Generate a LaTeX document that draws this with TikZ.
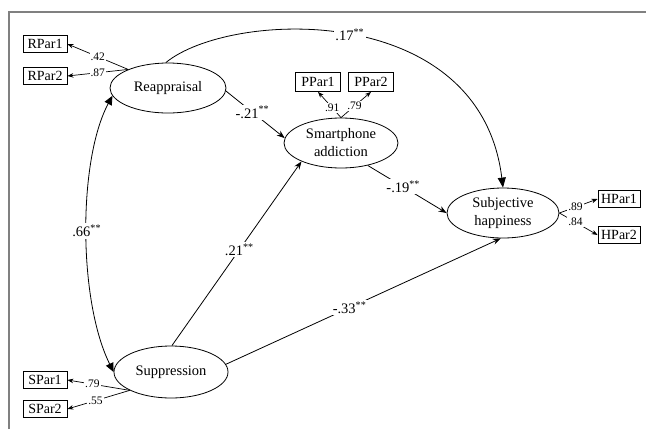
\documentclass[tikz,border=0pt]{standalone}
\usepackage{fontspec}
\setmainfont{Liberation Serif}
\usetikzlibrary{arrows.meta,shapes.geometric}
\begin{document}
\begin{tikzpicture}[x=1pt,y=-1pt,
  lat/.style={ellipse,draw,line width=0.8pt,inner sep=0pt,align=center,
    font=\fontsize{14.5}{18}\selectfont},
  obs/.style={rectangle,draw,line width=0.8pt,minimum width=44,minimum height=17,
    inner sep=0pt,font=\fontsize{14}{14}\selectfont},
  ind/.style={line width=0.7pt,-{Stealth[length=6pt,width=4.5pt]}},
  path/.style={line width=0.8pt,-{Stealth[length=8pt,width=6pt]}},
  load/.style={fill=white,inner sep=1pt,font=\fontsize{11.5}{12}\selectfont},
  coef/.style={fill=white,inner sep=1.5pt,font=\fontsize{14.5}{15}\selectfont}]
\useasboundingbox (0,0) rectangle (646,429);
% frame
\draw[gray,line width=1.2pt] (9,429) -- (9,12) -- (646,12);
% latent variables
\node[lat,minimum width=116,minimum height=50] (reap) at (168,88) {Reappraisal};
\node[lat,minimum width=114,minimum height=50] (smart) at (341,143) {Smartphone\\addiction};
\node[lat,minimum width=112,minimum height=50] (subj) at (503,213) {Subjective\\happiness};
\node[lat,minimum width=114,minimum height=52] (supp) at (171,372) {Suppression};
% observed
\node[obs] (rp1) at (45,44) {RPar1};
\node[obs] (rp2) at (45,76) {RPar2};
\node[obs,minimum width=45,minimum height=19] (pp1) at (318,82) {PPar1};
\node[obs,minimum width=45,minimum height=19] (pp2) at (371,82) {PPar2};
\node[obs,minimum width=42] (hp1) at (619,199) {HPar1};
\node[obs,minimum width=42] (hp2) at (619,235) {HPar2};
\node[obs] (sp1) at (45,380) {SPar1};
\node[obs] (sp2) at (45,409) {SPar2};
% indicator paths
\draw[ind] (reap.155) -- node[load,pos=0.5]{.42} (rp1.east);
\draw[ind] (reap.155) -- node[load,pos=0.5]{.87} (rp2.east);
\draw[ind] (smart.north) -- node[load,pos=0.38]{.91} (pp1.south);
\draw[ind] (smart.north) -- node[load,pos=0.45]{.79} (pp2.south);
\draw[ind] (subj.east) -- node[load,pos=0.42]{.89} (hp1.west);
\draw[ind] (subj.east) -- node[load,pos=0.42]{.84} (hp2.west);
\draw[ind] (supp.204) -- node[load,pos=0.6]{.79} (sp1.east);
\draw[ind] (supp.204) -- node[load,pos=0.55]{.55} (sp2.east);
% structural paths
\draw[path] (reap.-3) -- node[coef,pos=0.45]{-.21\textsuperscript{**}} (smart.175);
\draw[path] (supp.88) -- node[coef,pos=0.52]{.21\textsuperscript{**}} (smart.205);
\draw[path] (smart.-40) -- node[coef,pos=0.45]{-.19\textsuperscript{**}} (subj.west);
\draw[path] (supp.8) -- node[coef,pos=0.45]{-.33\textsuperscript{**}} (subj.-95);
\draw[line width=0.8pt,-{Triangle[length=10pt,width=8pt]}] (reap.95) .. controls (230,10) and (480,0) .. node[coef,pos=0.5]{.17\textsuperscript{**}} (subj.north);
\draw[line width=0.8pt,{Triangle[length=9pt,width=8pt]}-{Triangle[length=9pt,width=8pt]}] (reap.188) .. controls (78,160) and (78,300) .. node[coef,pos=0.5]{.66\textsuperscript{**}} (supp.west);
\end{tikzpicture}
\end{document}
